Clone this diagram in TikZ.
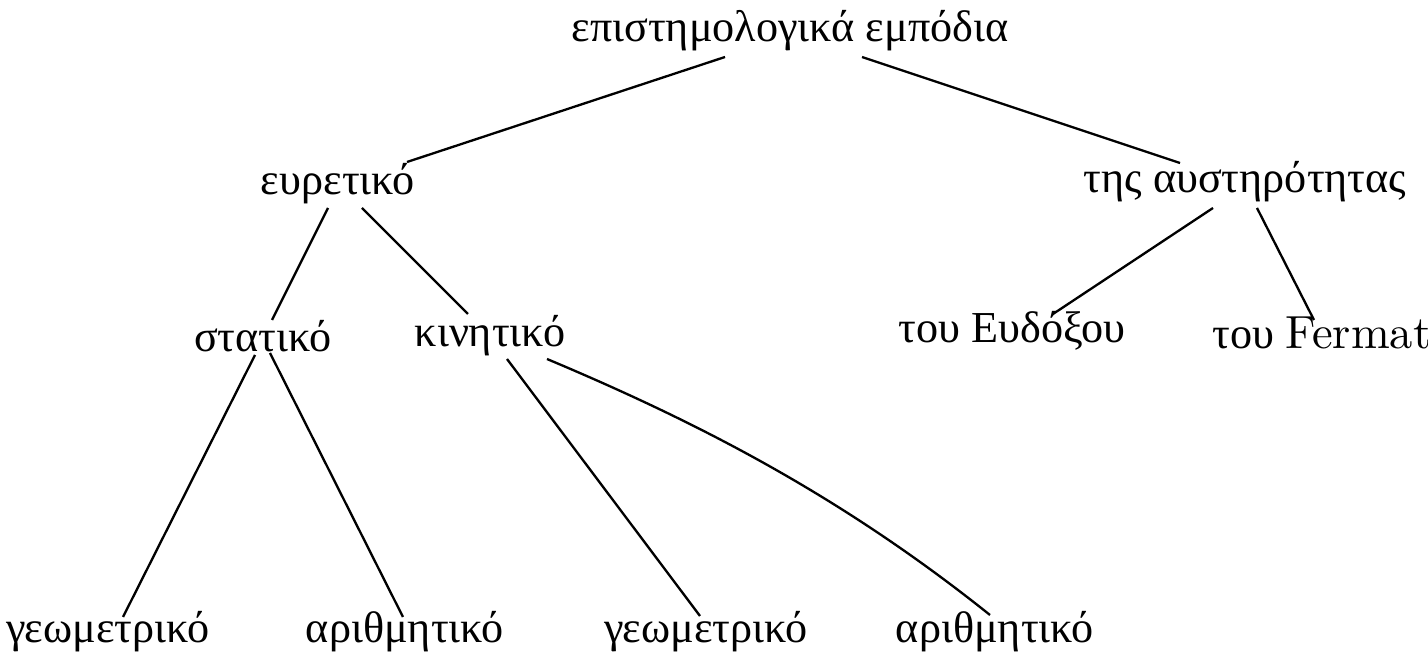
\documentclass[tikz,border=0pt]{standalone}
\usepackage{fontspec}
\newfontfamily\gr{Liberation Serif}
\tikzset{
  lbl/.style={anchor=base, inner sep=0pt, font=\fontsize{9.5pt}{11pt}\gr},
  br/.style={line width=0.5pt}
}
\begin{document}
\begin{tikzpicture}[x=0.215pt,y=-0.215pt]
\useasboundingbox (0,0) rectangle (1428,661);
\node[lbl] (root) at (790,42) {επιστημολογικά εμπόδια};
\node[lbl] (eur) at (338,195) {ευρετικό};
\node[lbl] (aus) at (1245,193) {της αυστηρότητας};
\node[lbl] (stat) at (263,352) {στατικό};
\node[lbl] (kin) at (490,347) {κινητικό};
\node[lbl] (eud) at (1012,343) {του Ευδόξου};
\node[lbl] (fer) at (1322,349) {του {\fontsize{10pt}{12pt}\rmfamily Fermat}};
\node[lbl] (g1) at (108,643) {γεωμετρικό};
\node[lbl] (a1) at (405,643) {αριθμητικό};
\node[lbl] (g2) at (706,643) {γεωμετρικό};
\node[lbl] (a2) at (995,643) {αριθμητικό};
\draw[br] ([shift={(-65,15)}]root.base) -- ([shift={(69,-33)}]eur.base);
\draw[br] ([shift={(72,15)}]root.base) -- ([shift={(-65,-30)}]aus.base);
\draw[br] ([shift={(-10,13)}]eur.base) -- ([shift={(9,-32)}]stat.base);
\draw[br] ([shift={(24,13)}]eur.base) -- ([shift={(-22,-33)}]kin.base);
\draw[br] ([shift={(-32,15)}]aus.base) -- ([shift={(41,-29)}]eud.base);
\draw[br] ([shift={(12,15)}]aus.base) -- ([shift={(-8,-29)}]fer.base);
\draw[br] ([shift={(-8,3)}]stat.base) -- ([shift={(15,-26)}]g1.base);
\draw[br] ([shift={(7,1)}]stat.base) -- ([shift={(-2,-26)}]a1.base);
\draw[br] ([shift={(17,12)}]kin.base) -- ([shift={(-6,-27)}]g2.base);
\draw[br] ([shift={(57,12)}]kin.base) .. controls (697,422) and (840,495) .. ([shift={(-5,-28)}]a2.base);
\end{tikzpicture}
\end{document}
